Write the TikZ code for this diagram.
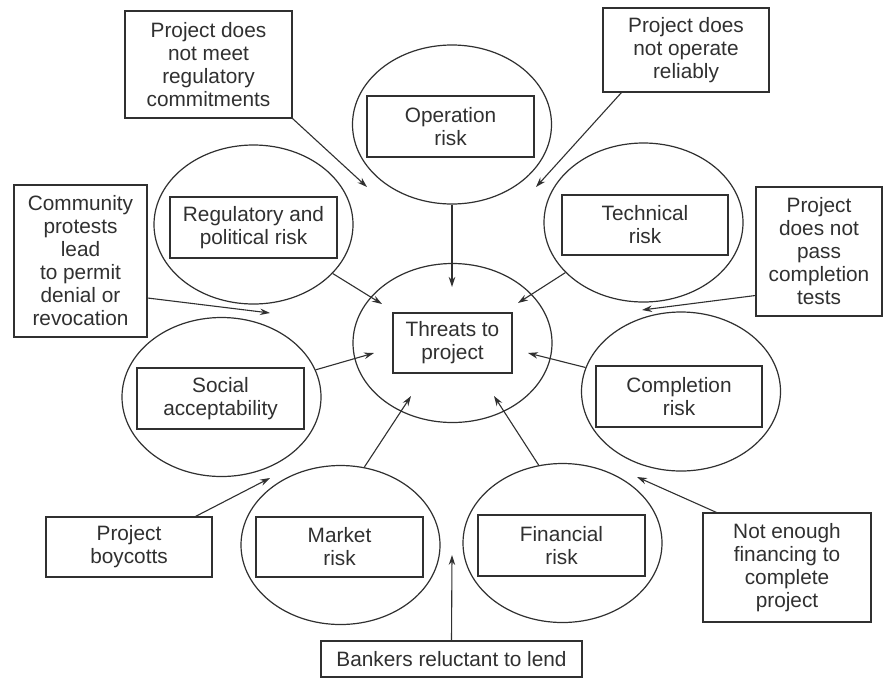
\documentclass[tikz,border=0pt]{standalone}
\usepackage{fontspec}
\setmainfont{Liberation Sans}
\usetikzlibrary{arrows.meta,shapes.geometric}
\definecolor{ink}{RGB}{48,48,48}
\begin{document}
\begin{tikzpicture}[x=1pt,y=-1pt,
  every node/.style={text=ink, font=\fontsize{20.8}{23}\selectfont, align=center},
  risk/.style={draw=ink, line width=1.2pt, ellipse, minimum width=199pt, minimum height=159pt, inner sep=0pt},
  tagbox/.style 2 args={draw=ink, line width=1.2pt, rectangle, inner sep=0pt, minimum width=#1, minimum height=#2},
  arr/.style={draw=ink, line width=1.1pt, -{Stealth[length=10pt,width=6.5pt]}}
]
\fill[white] (0,0) rectangle (883,678);
\useasboundingbox (0,0) rectangle (883,678);

% risk ellipses
\node[risk] (core) at (452.5,343) {};
\node[risk] (op)   at (452,124.5) {};
\node[risk] (reg)  at (253.5,224.5) {};
\node[risk] (tech) at (643.5,222.5) {};
\node[risk] (soc)  at (221.5,397) {};
\node[risk] (comp) at (681,391.5) {};
\node[risk] (mkt)  at (340.5,545) {};
\node[risk] (fin)  at (562.5,543) {};

% labels inside the ellipses
\node[tagbox={119pt}{60pt}] (coreb) at (452.5,343) {Threats to\\project};
\node[tagbox={167pt}{61pt}] (opb)   at (450.5,126.5) {Operation\\risk};
\node[tagbox={167pt}{61pt}] (regb)  at (253.5,227.5) {Regulatory and\\political risk};
\node[tagbox={166pt}{60pt}] (techb) at (645,225) {Technical\\risk};
\node[tagbox={167pt}{61pt}] (socb)  at (220.5,398.5) {Social\\acceptability};
\node[tagbox={166pt}{61pt}] (compb) at (679,396.5) {Completion\\risk};
\node[tagbox={167pt}{60pt}] (mktb)  at (339.5,547) {Market\\risk};
\node[tagbox={167pt}{61pt}] (finb)  at (561.5,545.5) {Financial\\risk};

% outer threat boxes
\node[tagbox={167pt}{107pt}] (commit) at (208.5,64.5) {Project does\\not meet\\regulatory\\commitments};
\node[tagbox={166pt}{84pt}]  (rely)   at (686,50) {Project does\\not operate\\reliably};
\node[tagbox={133pt}{152pt}] (protest) at (80.5,261) {Community\\protests\\lead\\to permit\\denial or\\revocation};
\node[tagbox={126pt}{129pt}] (tests)  at (819,251.5) {Project\\does not\\pass\\completion\\tests};
\node[tagbox={166pt}{60pt}]  (boy)    at (129,547) {Project\\boycotts};
\node[tagbox={261pt}{36pt}]  (bank)   at (451.5,659) {Bankers reluctant to lend};
\node[tagbox={168pt}{109pt}] (money)  at (787,567.5) {Not enough\\financing to\\complete\\project};

% arrow tips
\coordinate (t-op)   at (452,287);
\coordinate (t-reg)  at (382,304);
\coordinate (t-tech) at (518,303);
\coordinate (t-soc)  at (374,353);
\coordinate (t-comp) at (528,353);
\coordinate (t-mkt)  at (411,396);
\coordinate (t-fin)  at (494,396);

\coordinate (o-commit)  at (367,187);
\coordinate (o-rely)    at (536,187);
\coordinate (o-protest) at (270,313);
\coordinate (o-tests)   at (642,310);
\coordinate (o-boy)     at (270,478);
\coordinate (o-bank)    at (452,555);
\coordinate (o-money)   at (637,477);

% risks feeding the threats
\draw[arr] (op.south) -- (t-op);
\draw[arr] (reg) -- (t-reg);
\draw[arr] (tech) -- (t-tech);
\draw[arr] (soc) -- (t-soc);
\draw[arr] (comp) -- (t-comp);
\draw[arr] (mkt.73) -- (t-mkt);
\draw[arr] (fin.107) -- (t-fin);

% causes pointing into the gaps
\draw[arr] (commit.south east) -- (o-commit);
\draw[arr] ([xshift=19pt]rely.south west) -- (o-rely);
\draw[arr] ([yshift=-37pt]protest.east) -- (o-protest);
\draw[arr] ([yshift=-44pt]tests.west) -- (o-tests);
\draw[arr] ([xshift=-17pt]boy.north east) -- (o-boy);
\draw[arr] (bank.north) -- (o-bank);
\draw[arr] ([xshift=14pt]money.north west) -- (o-money);
\end{tikzpicture}
\end{document}
